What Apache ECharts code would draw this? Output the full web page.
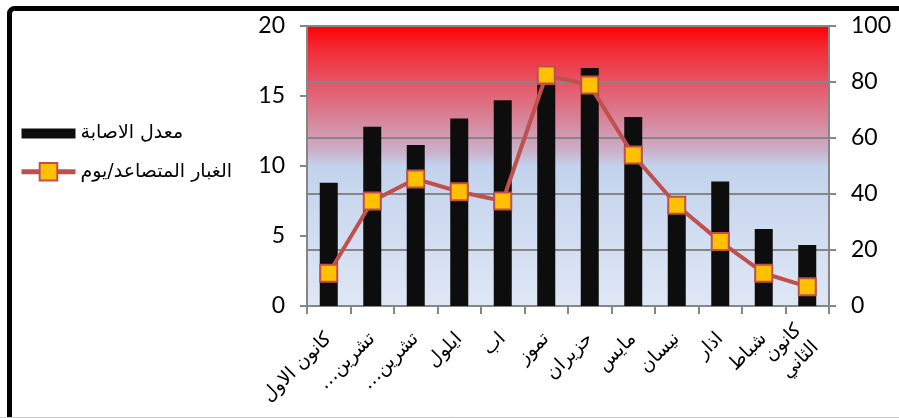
<!DOCTYPE html>
<html><head><meta charset="utf-8">
<script src="https://cdn.jsdelivr.net/npm/echarts@6/dist/echarts.min.js"></script>
<style>html,body{margin:0;padding:0;background:#fff}#c{width:899px;height:418px}</style>
</head><body><div id="c"></div>
<script>
var categories = ["كانون الاول","تشرين…","تشرين…","ايلول","اب","تموز","حزيران","مايس","نيسان","اذار","شباط","كانون الثاني"];
var infectionRate = [8.8, 12.8, 11.5, 13.4, 14.7, 15.8, 17.0, 13.5, 7.2, 8.9, 5.5, 4.35];
var dustPerDay = [11.7, 37.5, 45.4, 40.8, 37.5, 82.5, 78.9, 53.9, 36.0, 23.0, 11.7, 6.9];
var leftTicks = [0, 20, 5];
var rightTicks = [0, 100, 20];
var seriesNames = ["معدل الاصابة", "الغبار المتصاعد/يوم"];

var chart = echarts.init(document.getElementById('c'));
var numFont = 'Lato, "Open Sans", sans-serif';
var arFont = '"DejaVu Sans", "Noto Sans", sans-serif';
chart.setOption({
  animation: false,
  backgroundColor: '#fff',
  grid: {
    left: 307, right: 70, top: 26, bottom: 112, show: true, borderWidth: 0,
    backgroundColor: new echarts.graphic.LinearGradient(0, 0, 0, 1, [
      {offset: 0, color: '#ff0000'},
      {offset: 0.08, color: '#f22a35'},
      {offset: 0.2, color: '#e65464'},
      {offset: 0.35, color: '#d68aa0'},
      {offset: 0.45, color: '#cab2cc'},
      {offset: 0.5, color: '#c3d3ed'},
      {offset: 1, color: '#dfe7f5'}
    ])
  },
  legend: {
    orient: 'vertical', left: 14, top: 119, itemGap: 19,
    itemWidth: 54, itemHeight: 22,
    textStyle: {fontFamily: arFont, fontSize: 19, color: '#000'},
    data: [
      {name: seriesNames[0], icon: 'path://M0,0 L54,0 L54,10 L0,10 Z'},
      {name: seriesNames[1], lineStyle: {width: 5}}
    ]
  },
  xAxis: {
    type: 'category', data: categories,
    axisLine: {lineStyle: {color: '#868686', width: 2}},
    axisTick: {show: true, length: 8, lineStyle: {color: '#868686', width: 2}},
    axisLabel: {
      interval: 0, hideOverlap: false,
      rotate: 45, margin: 30, fontFamily: arFont, fontSize: 19, color: '#000', lineHeight: 24,
      formatter: function (v) { return (v === 'كانون الثاني' ? 'كانون\nالثاني' : v) + '\u200F'; }
    }
  },
  yAxis: [
    {type: 'value', min: leftTicks[0], max: leftTicks[1], interval: leftTicks[2], position: 'left',
     axisLine: {show: true, lineStyle: {color: '#868686', width: 2}},
     axisTick: {show: true, length: 7, lineStyle: {color: '#868686', width: 2}},
     splitLine: {show: false},
     axisLabel: {fontFamily: numFont, fontSize: 23, color: '#000', margin: 22}},
    {type: 'value', min: rightTicks[0], max: rightTicks[1], interval: rightTicks[2], position: 'right',
     axisLine: {show: true, lineStyle: {color: '#868686', width: 2}},
     axisTick: {show: true, length: 7, lineStyle: {color: '#868686', width: 2}},
     splitLine: {show: true, lineStyle: {color: '#868686', width: 2}},
     axisLabel: {fontFamily: numFont, fontSize: 23, color: '#000', margin: 22}}
  ],
  series: [
    {name: seriesNames[0], type: 'bar', yAxisIndex: 0, data: infectionRate,
     barWidth: 18, itemStyle: {color: '#0d0d0d'}},
    {name: seriesNames[1], type: 'line', yAxisIndex: 1, data: dustPerDay,
     symbol: 'rect', symbolSize: 17,
     lineStyle: {color: '#c0504d', width: 4},
     itemStyle: {color: '#ffc000', borderColor: '#c0504d', borderWidth: 2}}
  ],
  graphic: [
    {type: 'rect', shape: {x: 9.5, y: 8.5, width: 1000, height: 500, r: 5},
     style: {fill: null, stroke: '#000', lineWidth: 5}, z: 100},
    {type: 'line', shape: {x1: 0, y1: 417.5, x2: 899, y2: 417.5},
     style: {stroke: '#c8c8c8', lineWidth: 1}, z: 101}
  ]
});
</script></body></html>
